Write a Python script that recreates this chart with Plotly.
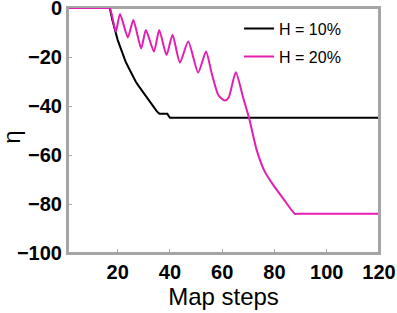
import plotly.graph_objects as go

# H = 10% series (black)
steps_h10 = [1, 17, 18, 19, 20, 21, 22, 23, 24, 25, 26, 27, 28, 29, 30, 31, 32, 33, 34, 35, 36, 37, 38, 39, 40, 120]
eta_h10 = [0, 0, -5, -9.5, -13, -16, -19, -21.8, -24, -26.3, -28.3, -30.2, -31.8, -33.3, -34.8, -36.3, -37.8,
           -39.3, -40.7, -42.2, -43.2, -43.2, -43.2, -43.2, -44.8, -44.8]

# H = 20% series (magenta)
steps_h20 = [1, 10, 16, 17, 19.3, 20.9, 23.9, 26, 29, 30.8, 33.9, 35.9, 38.7, 41, 43.8, 47, 50.8, 53.8, 56, 58.5,
             61, 62.5, 65.2, 68, 70.3, 73.2, 76.3, 79.5, 83.5, 87.8, 89, 95, 105, 120]
eta_h20 = [0, 0, 0, 0, -9.7, -2.4, -12, -4.9, -16.5, -9, -17.8, -9, -19.2, -10.9, -22.3, -13.7, -26.4, -17.8, -26.7,
           -35.5, -37.8, -36.5, -26.2, -36.5, -45, -58, -66.8, -72.2, -78, -84, -84, -84, -84, -84]

x_ticks = [20, 40, 60, 80, 100, 120]
y_ticks = [0, -20, -40, -60, -80, -100]
y_tick_labels = ["0", "\u221220", "\u221240", "\u221260", "\u221280", "\u2212100"]

FONT = "Liberation Sans, Arial, Helvetica, sans-serif"
PINK = "#E41EB0"
GREY = "#A5A5A5"

fig = go.Figure()
fig.add_trace(go.Scatter(x=steps_h10, y=eta_h10, mode="lines", name="H = 10%", legendgroup="a",
                         line=dict(color="black", width=2)))
fig.add_trace(go.Scatter(x=steps_h20, y=eta_h20, mode="lines", name="H = 20%", legendgroup="b",
                         line=dict(color=PINK, width=2, shape="spline", smoothing=0.6)))

axis_common = dict(showline=True, linecolor=GREY, linewidth=2, mirror=True, ticks="inside",
                   ticklen=4, tickcolor=GREY, tickwidth=1.2, showgrid=False, zeroline=False,
                   ticklabeloverflow="allow",
                   tickfont=dict(family=FONT, size=20, color="black", weight="bold"))

fig.update_xaxes(range=[1, 120], tickvals=x_ticks, ticktext=[str(v) for v in x_ticks],
                 title=dict(text="Map steps", font=dict(family=FONT, size=24, color="black"), standoff=4),
                 **axis_common)
fig.update_yaxes(range=[-100, 0], tickvals=y_ticks, ticktext=y_tick_labels, **axis_common)

# frame around the plotting area (sides above, top below so the data line at 0 stays on top)
fig.add_shape(type="line", xref="paper", yref="paper", x0=0, y0=0, x1=0, y1=1,
              line=dict(color=GREY, width=2), layer="above")
fig.add_shape(type="line", xref="paper", yref="paper", x0=1, y0=0, x1=1, y1=1,
              line=dict(color=GREY, width=2), layer="above")
fig.add_shape(type="line", xref="paper", yref="paper", x0=0, y0=0, x1=1, y1=0,
              line=dict(color=GREY, width=2), layer="above")
fig.add_shape(type="line", xref="paper", yref="paper", x0=0, y0=1, x1=1, y1=1,
              line=dict(color=GREY, width=2), layer="below")

fig.add_annotation(text="\u03b7", xref="paper", yref="paper", x=-0.18, y=0.47, showarrow=False,
                   xanchor="center", yanchor="middle",
                   textangle=-90, font=dict(family=FONT, size=24, color="black"))

fig.update_layout(
    width=397, height=313,
    margin=dict(l=68, r=18, t=8, b=60, autoexpand=False),
    paper_bgcolor="white", plot_bgcolor="rgba(0,0,0,0)",
    showlegend=True,
    legend=dict(x=0.55, y=0.985, xanchor="left", yanchor="top", bgcolor="rgba(0,0,0,0)",
                font=dict(family=FONT, size=16, color="black"), itemwidth=30, tracegroupgap=4),
)

fig.write_html("out.html", config={"displayModeBar": False},
               post_script="document.body.style.margin='0';document.body.style.padding='0';")
